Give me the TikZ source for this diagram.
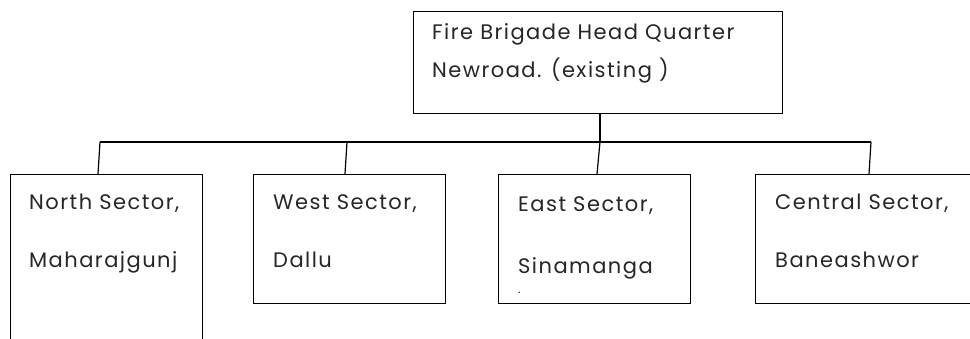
\documentclass[tikz,border=0pt]{standalone}
\usepackage{fontspec}
\setmainfont{Poppins}[LetterSpace=7]
\begin{document}
\begin{tikzpicture}[x=1pt,y=-1pt,
  box/.style={draw=black,line width=1.2pt,fill=white,inner sep=0pt,anchor=north west},
  lbl/.style={anchor=base west,inner sep=0pt,text=black!85,font=\fontsize{21}{24}\selectfont},
  link/.style={draw=black,line width=1.2pt}]
\useasboundingbox (0,0) rectangle (970,338);
\clip (0,0) rectangle (970,338);
% boxes
\node[box,minimum width=369pt,minimum height=102pt] (hq) at (413,11) {};
\node[box,minimum width=192pt,minimum height=200pt] (north) at (10,174) {};
\node[box,minimum width=192pt,minimum height=129pt] (west) at (253,174) {};
\node[box,minimum width=192pt,minimum height=129pt] (east) at (498,174) {};
\node[box,minimum width=240pt,minimum height=129pt] (central) at (755,174) {};
% texts
\node[lbl] (t1) at (432,39) {Fire Brigade Head Quarter};
\node[lbl] (t2) at (432,77) {Newroad. (existing )};
\node[lbl] (n1) at (29,209) {North Sector,};
\node[lbl] (n2) at (29,267) {Maharajgunj};
\node[lbl] (w1) at (273,209) {West Sector,};
\node[lbl] (w2) at (273,267) {Dallu};
\node[lbl] (e1) at (518,211) {East Sector,};
\node[lbl] (e2) at (518,273) {Sinamanga};
\node[lbl,font=\fontsize{12}{14}\selectfont] (e3) at (518,293) {.};
\node[lbl] (c1) at (775,209) {Central Sector,};
\node[lbl] (c2) at (775,267) {Baneashwor};
% connectors
\coordinate (bh) at (600,142);
\coordinate (bn) at (100,142);
\coordinate (bw) at (347,142);
\coordinate (bc) at (871,142);
\draw[link] (hq.south -| bh) -- (bh);
\draw[link] (bn) -- (bc);
\draw[link] (bn) -- (north.north -| 98,0);
\draw[link] (bw) -- (west.north -| 345,0);
\draw[link] (bh) -- (east.north -| 597,0);
\draw[link] (bc) -- (central.north -| 869,0);
\end{tikzpicture}
\end{document}
